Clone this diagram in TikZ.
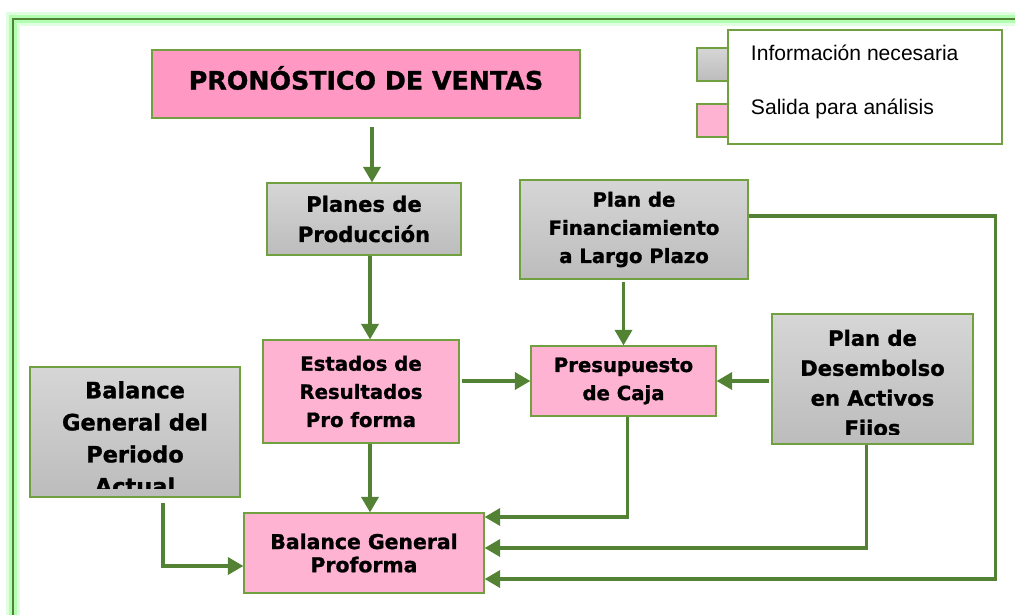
\documentclass[tikz,border=0pt]{standalone}
\usepackage{fontspec}
\setmainfont{Liberation Sans}
\newfontfamily\boxfont{DejaVu Sans}[BoldFeatures={FakeBold=1.2}]
\usetikzlibrary{arrows.meta}
\definecolor{linegreen}{HTML}{548235}
\definecolor{edgegreen}{HTML}{70A040}
\definecolor{pinkout}{HTML}{FFB3D3}
\definecolor{pinkhead}{HTML}{FF99C4}
\definecolor{grayhi}{HTML}{D6D6D6}
\definecolor{graylo}{HTML}{BCBCBC}
\begin{document}
\begin{tikzpicture}[x=0.025cm, y=-0.025cm,
    info/.style ={draw=edgegreen, line width=0.8pt, top color=grayhi, bottom color=graylo, align=center, inner sep=0pt},
    output/.style ={draw=edgegreen, line width=0.8pt, fill=pinkout, align=center, inner sep=0pt},
    boxtext/.style ={align=center, inner sep=0pt, font=\boxfont\bfseries},
    flow/.style ={draw=linegreen, line width=2.6pt, -{Triangle[length=11pt,width=12pt]}}]
   \clip (0,0) rectangle (1015,614);
   \fill[white] (0,0) rectangle (1015,614);
   % frame
   \draw[line width=10pt, green!12] (13,19) rectangle (1040,640);
   \draw[line width=5pt, green!30] (13,19) rectangle (1040,640);
   \draw[line width=1.8pt, linegreen] (13,19) rectangle (1040,640);

   \node[output, fill=pinkhead, minimum width=10.7cm, minimum height=1.7cm] (A) at (366,84) {};
   \node[boxtext, font=\boxfont\bfseries\fontsize{18}{20}\selectfont] (A1) at (366,78) {PRONÓSTICO DE VENTAS};

   % legend
   \node[info, minimum width=0.8cm, minimum height=0.825cm] (L1) at (713,64.5) {};
   \node[output, minimum width=0.8cm, minimum height=0.825cm] (L2) at (713,120.5) {};
   \node[draw=edgegreen, line width=0.8pt, fill=white, minimum width=6.85cm, minimum height=2.85cm] (L) at (865,87) {};
   \node[anchor=west, font=\fontsize{15}{17}\selectfont] (L3) at (746,53) {Información necesaria};
   \node[anchor=west, font=\fontsize{15}{17}\selectfont] (L4) at (746,109) {Salida para análisis};

   \node[info, minimum width=4.85cm, minimum height=1.8cm, font=\boxfont\bfseries\fontsize{15}{21.5}\selectfont] (B) at (364,219) {Planes de\\Producción};
   \node[info, minimum width=5.7cm, minimum height=2.475cm, font=\boxfont\bfseries\fontsize{14}{20}\selectfont] (C) at (634,229.5) {Plan de\\Financiamiento\\a Largo Plazo};
   \node[output, minimum width=4.9cm, minimum height=2.575cm, font=\boxfont\bfseries\fontsize{14}{20}\selectfont] (D) at (361,391.5) {Estados de\\Resultados\\Pro forma};
   \node[output, minimum width=4.625cm, minimum height=1.75cm, font=\boxfont\bfseries\fontsize{14}{20}\selectfont] (E) at (623.5,381) {Presupuesto\\de Caja};
   \node[info, minimum width=5.025cm, minimum height=3.25cm] (F) at (872.5,379) {};
   \node[info, minimum width=5.25cm, minimum height=3.25cm] (G) at (135,432) {};
   \node[output, minimum width=6cm, minimum height=2cm, font=\boxfont\bfseries\fontsize{14.5}{16.5}\selectfont] (H) at (364,553) {Balance General\\Proforma};

   \begin{scope}
     \clip (772,314) rectangle (973,434);
     \node[boxtext, font=\boxfont\bfseries\fontsize{15}{21.3}\selectfont] (F1) at (872.5,385) {Plan de\\Desembolso\\en Activos\\Fijos};
   \end{scope}
   \begin{scope}
     \clip (30,367) rectangle (240,488);
     \node[boxtext, font=\boxfont\bfseries\fontsize{16}{22.8}\selectfont] (G1) at (135,438) {Balance\\General del\\Periodo\\Actual};
   \end{scope}

   \draw[flow, shorten <=6pt] ([xshift=0.15cm]A.south) -- ([xshift=0.15cm]A.south |- B.north);
   \draw[flow] ([xshift=0.15cm]B.south) -- ([xshift=0.15cm]B.south |- D.north);
   \draw[flow, shorten <=2pt] (C.south -| E) -- (E.north);
   \draw[flow, shorten <=2pt] (D.east |- E) -- (E.west);
   \draw[flow, shorten <=2pt] (F.west |- E) -- (E.east);
   \draw[flow] ([xshift=0.225cm]D.south) -- ([xshift=0.225cm]D.south |- H.north);
   \draw[flow, shorten <=4pt] ([xshift=0.7cm]G.south) |- ([yshift=-0.325cm]H.west);
   \draw[flow] ([xshift=0.1cm]E.south) |- ([yshift=0.9cm]H.east);
   \draw[flow] ([xshift=-0.15cm]F.south) |- ([yshift=0.125cm]H.east);
   \draw[flow] ([yshift=0.34cm]C.east) -- ++(247,0) |- ([yshift=-0.65cm]H.east);
 \end{tikzpicture}
\end{document}
